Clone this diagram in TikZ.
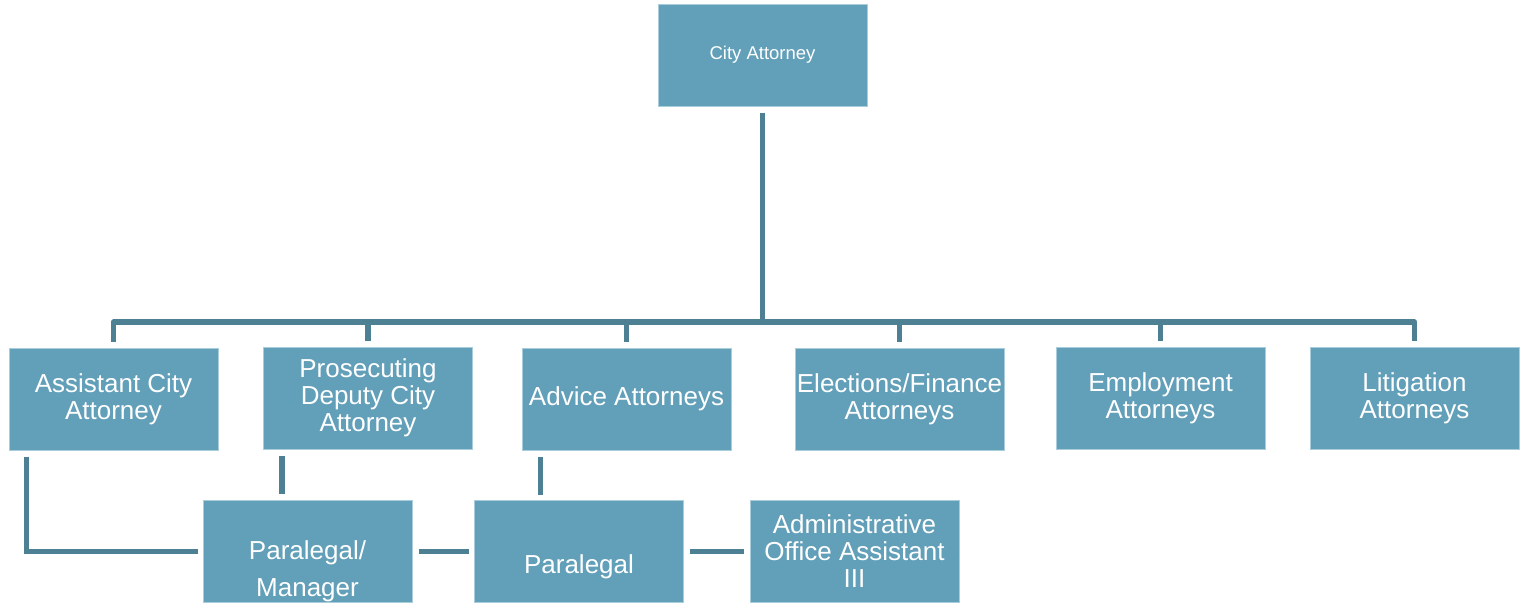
\documentclass[tikz,border=0pt]{standalone}
\usepackage{fontspec}
\setmainfont{Liberation Sans}
\usepackage{xcolor}
\usetikzlibrary{positioning}

\definecolor{boxfill}{RGB}{98,159,185}
\definecolor{boxedge}{RGB}{170,205,220}
\definecolor{linkcol}{RGB}{78,128,147}

\begin{document}
\begin{tikzpicture}[
    x=1pt, y=-1pt,
    box/.style={rectangle, draw=boxedge, fill=boxfill, line width=1pt, minimum width=209pt, minimum height=102pt, inner sep=0pt, text=white, align=center, font=\fontsize{26}{27}\selectfont},
    link/.style={draw=linkcol, line width=5.5pt, shorten <=6pt, shorten >=6pt}
]
\clip (0,0) rectangle (1527,603);

% top
\node[box, font=\fontsize{18.5}{21}\selectfont] (city) at (762.5,55) {City Attorney};

% first row
\node[box] (asst) at (113.5,399) {Assistant City\\Attorney};
\node[box] (pros) at (368,398) {Prosecuting\\Deputy City\\Attorney};
\node[box] (adv) at (626.5,399) {Advice Attorneys};
\node[box] (elec) at (899.5,399) {Elections/Finance\\Attorneys};
\node[box] (empl) at (1160.5,398) {Employment\\Attorneys};
\node[box] (lit) at (1414.5,398) {Litigation\\Attorneys};

% second row
\node[box, text height=90pt, text depth=0pt, font=\fontsize{26}{37}\selectfont] (plm) at (307.5,551.5) {Paralegal/\\Manager};
\node[box, text height=44pt, text depth=0pt] (par) at (579,551.5) {Paralegal};
\node[box] (adm) at (854.5,551.5) {Administrative\\Office Assistant\\III};

% tree
\coordinate (bus) at (762.5,322);
\draw[link, shorten >=0pt] (city) -- (bus);
\foreach \n in {asst,pros,adv,elec,empl,lit}
  \draw[link, shorten <=0pt, line join=round] (bus) -| (\n.north);

% lower links
\coordinate (ad) at ([xshift=18pt]asst.south west);
\coordinate (pd) at ([xshift=19pt]pros.south west);
\coordinate (vd) at ([xshift=19pt]adv.south west);
\draw[link, shorten >=5pt] (ad) |- (plm.west);
\draw[link] (pd) -- (pd |- plm.north);
\draw[link, shorten >=5pt] (vd) -- (vd |- par.north);
\draw[link, shorten >=5pt] (plm) -- (par);
\draw[link] (par) -- (adm);

\end{tikzpicture}
\end{document}
